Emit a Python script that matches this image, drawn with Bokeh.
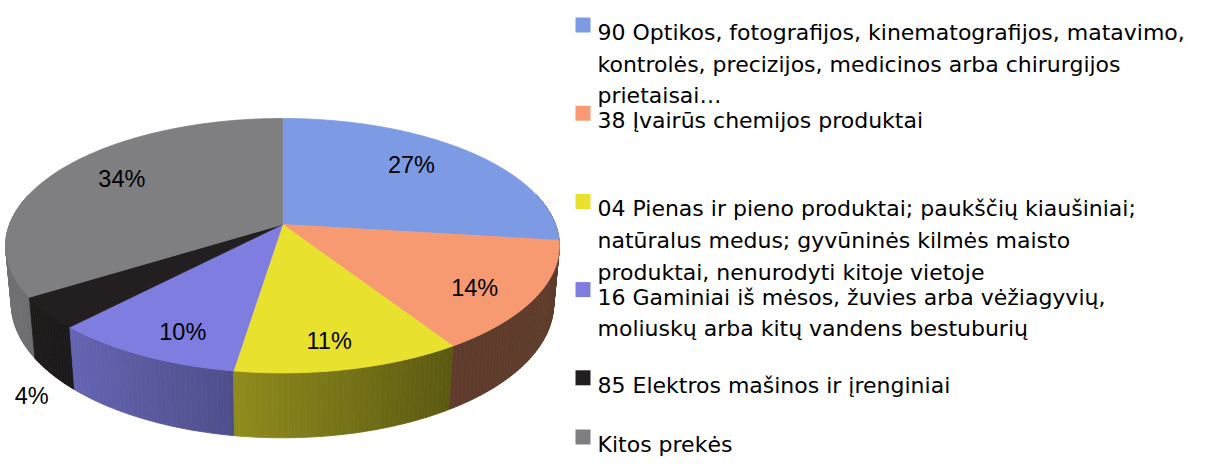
import numpy as np
from bokeh.plotting import figure
from bokeh.models import Range1d, ColumnDataSource
from bokeh.embed import file_html
from bokeh.resources import INLINE
from bokeh.core.properties import value

# ---------------- data ----------------
categories = [
    "90 Optikos, fotografijos, kinematografijos, matavimo,\nkontrolės, precizijos, medicinos arba chirurgijos\nprietaisai…",
    "38 Įvairūs chemijos produktai",
    "04 Pienas ir pieno produktai; paukščių kiaušiniai;\nnatūralus medus; gyvūninės kilmės maisto\nproduktai, nenurodyti kitoje vietoje",
    "16 Gaminiai iš mėsos, žuvies arba vėžiagyvių,\nmoliuskų arba kitų vandens bestuburių",
    "85 Elektros mašinos ir įrenginiai",
    "Kitos prekės",
]
shares = [27.0, 14.0, 11.4, 9.6, 4.0, 34.0]
pct_labels = ["27%", "14%", "11%", "10%", "4%", "34%"]

# ---------------- style ----------------
colors = ["#7D9BE4", "#F79A72", "#E8E22E", "#7F7EE0", "#231F20", "#7F7F82"]

CX, CY, R = 282.0, 224.0, 273.0       # pie centre / radius in screen px
SIN_A = 0.453                          # view tilt
COS_A = float(np.sqrt(1 - SIN_A ** 2))
DIST = 5.35                            # perspective distance (in radii)
H = 0.24                               # pie thickness (in radii)

W, HT = 1192, 458


def project(theta_deg, r=1.0, y=0.0):
    t = np.radians(theta_deg)
    X = r * np.sin(t)
    Z = -r * np.cos(t)
    vert = -Z * SIN_A + y * COS_A
    depth = Z * COS_A + y * SIN_A
    s = DIST / (DIST - depth)
    return CX + R * X * s, CY - R * vert * s


def shade(hexcol, f):
    h = hexcol.lstrip("#")
    rgb = [int(h[i:i + 2], 16) for i in (0, 2, 4)]
    return "#%02x%02x%02x" % tuple(max(0, min(255, int(round(c * f)))) for c in rgb)


p = figure(width=W, height=HT,
           x_range=Range1d(0, W), y_range=Range1d(HT, 0),
           output_backend="svg", toolbar_location=None,
           x_axis_location=None, y_axis_location=None, min_border=0)
p.grid.visible = False
p.outline_line_color = None
p.background_fill_color = "white"
p.border_fill_color = "white"

total = float(sum(shares))
edges = np.concatenate([[0.0], np.cumsum(shares)]) / total * 360.0

# ---- side wall (outer rim) ----
quads = []
for i in range(len(shares)):
    a0, a1 = edges[i], edges[i + 1]
    n = max(2, int(np.ceil((a1 - a0) / 1.0)))
    ts = np.linspace(a0, a1, n + 1)
    for ta, tb in zip(ts[:-1], ts[1:]):
        tm = 0.5 * (ta + tb)
        Z = -np.cos(np.radians(tm))
        if Z < -0.25:
            continue
        f = float(np.clip(0.57 - 0.33 * np.sin(np.radians(tm)), 0.38, 0.92))
        xa, ya = project(ta)
        xb, yb = project(tb)
        xbb, ybb = project(tb, 1.0, -H)
        xab, yab = project(ta, 1.0, -H)
        quads.append((Z, [xa, xb, xbb, xab], [ya, yb, ybb, yab], shade(colors[i], f)))
quads.sort(key=lambda q: q[0])
wall = ColumnDataSource(dict(xs=[q[1] for q in quads], ys=[q[2] for q in quads],
                             c=[q[3] for q in quads]))
p.patches("xs", "ys", source=wall, fill_color="c", line_color="c", line_width=0.8)

# ---- top faces ----
txs, tys = [], []
for i in range(len(shares)):
    arc = np.linspace(edges[i], edges[i + 1], 80)
    ax, ay = project(arc)
    txs.append([CX] + list(ax))
    tys.append([CY] + list(ay))
top = ColumnDataSource(dict(xs=txs, ys=tys, c=colors))
p.patches("xs", "ys", source=top, fill_color="c", line_color="c", line_width=0.8)

# ---- percentage labels ----
inx, iny, intx, outx, outy, outtx = [], [], [], [], [], []
for i in range(len(shares)):
    mid = 0.5 * (edges[i] + edges[i + 1])
    if shares[i] >= 5:
        m = np.radians(mid)
        r = 0.77 - 0.06 * np.cos(m)
        x, y = project(mid - 4.0 * np.sin(2 * m), r)
        inx.append(x); iny.append(y); intx.append(pct_labels[i])
    else:
        x, y = project(mid, 1.08, -H)
        outx.append(x); outy.append(y); outtx.append(pct_labels[i])
p.text(inx, iny, text=intx, text_font=value("Liberation Sans"), text_font_size="23.5px",
       text_align="center", text_baseline="middle", text_color="#000000")
p.text(outx, outy, text=outtx, text_font=value("Liberation Sans"), text_font_size="23.5px",
       text_align="center", text_baseline="top", text_color="#000000")

# ---- legend ----
LX_SW, LX_TXT, LY0, LSTEP, LLINE = 582.5, 597.0, 32.0, 88.2, 31.6
LY_MAX = 444.0   # keep the last entry inside the canvas
sx, sy, lx, ly, lt = [], [], [], [], []
for k, cat in enumerate(categories):
    base = min(LY0 + LSTEP * k, LY_MAX)
    sx.append(LX_SW); sy.append(base - 7.5)
    for j, line in enumerate(cat.split("\n")):
        lx.append(LX_TXT); ly.append(base + LLINE * j); lt.append(line)
p.rect(sx, sy, width=15, height=15, fill_color=colors, line_color=None)
p.text(lx, ly, text=lt, text_font=value("DejaVu Sans"), text_font_size="22px",
       text_align="left", text_baseline="alphabetic", text_color="#000000")

open("out.html", "w").write(file_html(p, INLINE))
